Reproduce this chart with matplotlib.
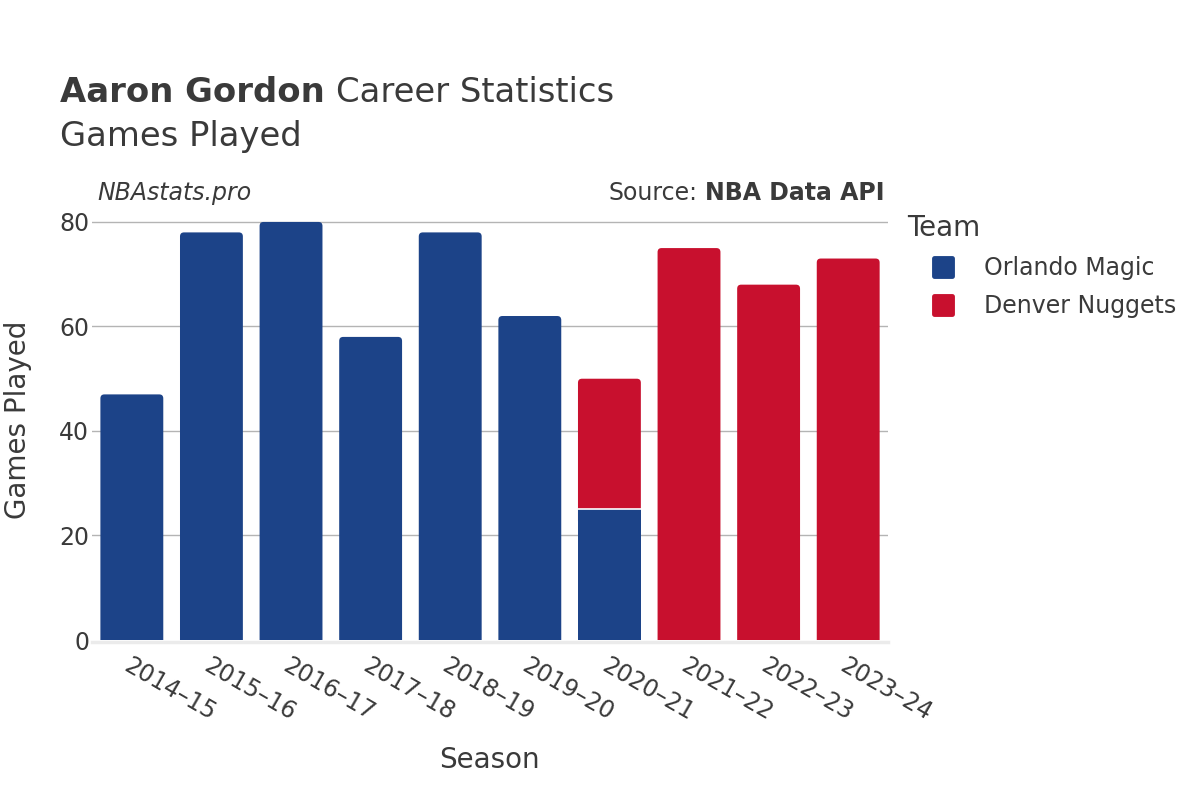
import numpy as np
import matplotlib.pyplot as plt
from matplotlib.patches import FancyBboxPatch
from matplotlib.lines import Line2D
from matplotlib.markers import MarkerStyle

seasons = ["2014–15", "2015–16", "2016–17", "2017–18", "2018–19",
           "2019–20", "2020–21", "2021–22", "2022–23", "2023–24"]
orlando = [47, 78, 80, 58, 78, 62, 25, 0, 0, 0]
denver = [0, 0, 0, 0, 0, 0, 25, 75, 68, 73]
teams = ["Orlando Magic", "Denver Nuggets"]
colors = ["#1c4388", "#c8102e"]
txt = "#3a3a3a"

plt.rcParams['font.family'] = ['DejaVu Sans']

fig = plt.figure(figsize=(12, 8), dpi=100)
ax = fig.add_axes([0.0767, 0.2, 0.6633, 0.55])

x = np.arange(len(seasons))
w = 0.79
b1 = ax.bar(x, orlando, w, color=colors[0], edgecolor="none", zorder=3)
b2 = ax.bar(x, denver, w, bottom=orlando, color=colors[1], edgecolor="none", zorder=2)

ax.set_xlim(-0.5, len(seasons) - 0.5)
ax.set_ylim(0, 84.2)

# rounded top corners on the top segment of each stack
r = 0.05
asp = 15.4
for i in range(len(seasons)):
    stacked = denver[i] > 0 and orlando[i] > 0
    top = b2[i] if denver[i] > 0 else b1[i]
    bx, by = top.get_x(), top.get_y()
    bw, bh = top.get_width(), top.get_height()
    col = top.get_facecolor()
    top.set_visible(False)
    ax.add_patch(FancyBboxPatch((bx, by - 3), bw, bh + 3,
                                boxstyle=f"round,pad=0,rounding_size={r}",
                                mutation_aspect=asp, facecolor=col,
                                edgecolor="none", zorder=2))
    if stacked:
        ax.plot([bx, bx + bw], [by, by], color="white", lw=1.2, zorder=4)

for y in [20, 40, 60, 80]:
    ax.axhline(y, color="#b4b4b4", lw=1, zorder=1)
ax.axhline(-0.4, color="#ebebeb", lw=2.5, zorder=1, clip_on=False)

for s in ax.spines.values():
    s.set_visible(False)
ax.set_yticks([0, 20, 40, 60, 80])
ax.tick_params(axis="y", length=0, labelsize=17, labelcolor=txt, pad=2)
ax.set_xticks(x)
ax.set_xticklabels(seasons, rotation=-30, ha="left", va="top",
                   rotation_mode="anchor", fontsize=17, color=txt)
ax.tick_params(axis="x", length=0, pad=10)

fig.text(0.408, 1 - 760 / 800, "Season", fontsize=20, color=txt,
         ha="center", va="center")
fig.text(0.015, 1 - 420 / 800, "Games Played", fontsize=20, color=txt,
         ha="center", va="center", rotation=90)

# title
renderer = fig.canvas.get_renderer()
t1 = fig.text(0.05, 0.8725, "Aaron Gordon", fontsize=24.4, fontweight="bold",
              color=txt, va="baseline")
bb = t1.get_window_extent(renderer)
fig.text(bb.x1 / 1200 + 0.009, 0.8725, "Career Statistics", fontsize=24.4,
         color=txt, va="baseline")
fig.text(0.05, 0.818, "Games Played", fontsize=24.4, color=txt, va="baseline")

fig.text(0.081, 0.75, "NBAstats.pro", fontsize=17, style="italic",
         color=txt, va="baseline")
t2 = fig.text(0.737, 0.75, "NBA Data API", fontsize=17, fontweight="bold",
              color=txt, va="baseline", ha="right")
bb2 = t2.get_window_extent(renderer)
fig.text(bb2.x0 / 1200 - 0.006, 0.75, "Source:", fontsize=17,
         color=txt, va="baseline", ha="right")

handles = [Line2D([], [], linestyle="none",
                  marker=MarkerStyle("s", joinstyle="round"),
                  markersize=13.5, markeredgewidth=3.5,
                  markerfacecolor=c, markeredgecolor=c) for c in colors]
leg = fig.legend(handles, teams, loc="upper left", bbox_to_anchor=(0.756, 0.7325),
                 frameon=False, fontsize=17, title="Team", title_fontsize=20,
                 handlelength=3.0, handletextpad=0.25, borderpad=0,
                 labelspacing=0.59, alignment="left", borderaxespad=0)
for t in leg.get_texts():
    t.set_color(txt)
leg.get_title().set_color(txt)
leg._legend_box.sep = 10

fig.savefig("out.png", dpi=100)
